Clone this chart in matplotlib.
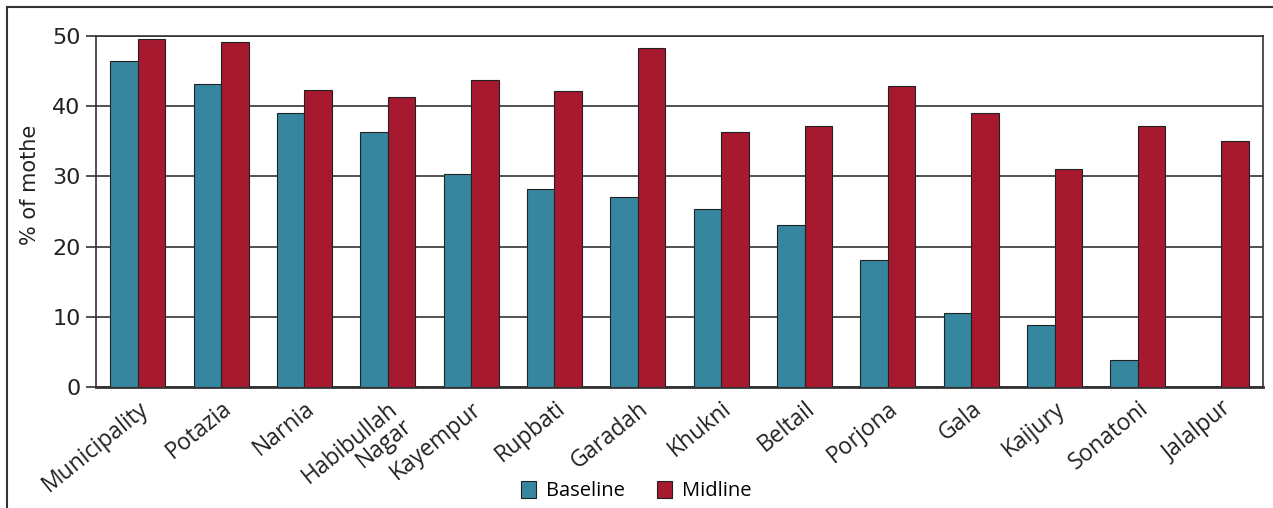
import numpy as np
import matplotlib.pyplot as plt
from matplotlib.lines import Line2D

unions = ["Municipality", "Potazia", "Narnia", "Habibullah\nNagar", "Kayempur",
          "Rupbati", "Garadah", "Khukni", "Beltail", "Porjona", "Gala",
          "Kaijury", "Sonatoni", "Jalalpur"]
baseline = [46.4, 43.2, 39.0, 36.3, 30.3, 28.2, 27.1, 25.4, 23.1, 18.1, 10.5, 8.8, 3.8, 0.0]
midline = [49.6, 49.1, 42.3, 41.3, 43.7, 42.2, 48.3, 36.3, 37.2, 42.9, 39.0, 31.1, 37.2, 35.0]

teal = "#35869e"
crimson = "#a6192e"

fig = plt.figure(figsize=(12.73, 5.08), dpi=100, facecolor="white")
ax = fig.add_axes([96/1273, 1 - 387/508, (1263-96)/1273, (387-36)/508])

x = np.arange(len(unions))
w = 0.33
ax.bar(x - w/2, baseline, w, color=teal, edgecolor="#222222", linewidth=0.8,
       label="Baseline", zorder=3)
ax.bar(x + w/2, midline, w, color=crimson, edgecolor="#222222", linewidth=0.8,
       label="Midline", zorder=3)

ax.set_xlim(-0.5, len(unions) - 0.5)
ax.set_ylim(0, 50)
ax.set_yticks([0, 10, 20, 30, 40, 50])
ax.yaxis.grid(True, color="#333333", linewidth=1.2, zorder=0)
ax.set_axisbelow(True)
for s in ax.spines.values():
    s.set_color("#333333")
    s.set_linewidth(1.2)
ax.spines["bottom"].set_linewidth(2)

ax.tick_params(axis="y", length=7, width=1.2, color="#333333", labelsize=16,
               labelcolor="#222222", pad=4)
ax.tick_params(axis="x", length=0, pad=7)
ax.set_xticks(x)
ax.set_xticklabels(unions, rotation=39, ha="right", rotation_mode="anchor",
                   fontsize=16.5, family="Open Sans", color="#222222",
                   linespacing=0.9)
for lbl in ax.get_yticklabels():
    lbl.set_family("DejaVu Sans")

fig.text(30/1273, 1 - 185/508, "% of mothe", rotation=90, ha="center",
         va="center", fontsize=15, family="DejaVu Sans", color="#222222")

fig.legend(loc="center", bbox_to_anchor=(636/1273, 1 - 491/508), ncol=2,
           frameon=False, handlelength=0.75, handleheight=0.9,
           columnspacing=1.6, handletextpad=0.5,
           prop={"family": "Open Sans", "size": 14.5})

# outer frame lines (top and left)
fig.add_artist(Line2D([7/1273, 7/1273], [0, 1 - 7/508], color="#333333", linewidth=1.5))
fig.add_artist(Line2D([7/1273, 1], [1 - 7/508, 1 - 7/508], color="#333333", linewidth=1.5))

fig.savefig("out.png", dpi=100, facecolor="white")
